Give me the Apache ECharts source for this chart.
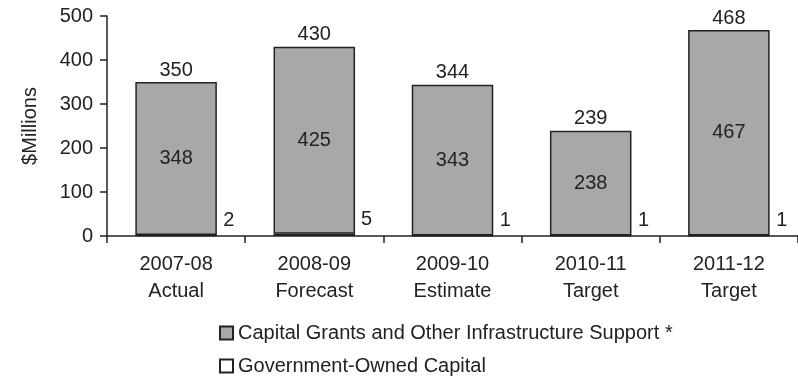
<!DOCTYPE html>
<html>
<head>
<meta charset="utf-8">
<style>
  html, body { margin: 0; padding: 0; background: #ffffff; }
  #chart { width: 798px; height: 383px; }
</style>
<script src="https://cdn.jsdelivr.net/npm/echarts@6/dist/echarts.min.js"></script>
</head>
<body>
<div id="chart"></div>
<script>
// Capital spending by year, $ millions
const categories = ['2007-08\nActual', '2008-09\nForecast', '2009-10\nEstimate', '2010-11\nTarget', '2011-12\nTarget'];
const capitalGrants = [348, 425, 343, 238, 467];
const governmentOwned = [2, 5, 1, 1, 1];
const totals = [350, 430, 344, 239, 468];
const yTicks = { min: 0, max: 500, interval: 100 };

const FONT = 'Liberation Sans, Arial, sans-serif';
const FS = 20;
const TEXT = '#222222';
const EDGE = '#222222';
const GREY = '#a6a8aa';

const chart = echarts.init(document.getElementById('chart'), null, { renderer: 'canvas' });

chart.setOption({
  animation: false,
  backgroundColor: '#ffffff',
  textStyle: { fontFamily: FONT, color: TEXT },
  grid: { left: 107, right: -7, top: 16, bottom: 147, containLabel: false },
  legend: {
    data: ['Capital Grants and Other Infrastructure Support *', 'Government-Owned Capital'],
    orient: 'vertical',
    left: 219,
    top: 323,
    padding: 0,
    itemWidth: 13,
    itemHeight: 13,
    itemGap: 13,
    icon: 'rect',
    textStyle: { fontFamily: FONT, fontSize: FS, color: TEXT, lineHeight: 20 }
  },
  xAxis: {
    type: 'category',
    data: categories,
    axisLine: { lineStyle: { color: EDGE, width: 1.5 } },
    axisTick: { show: true, length: 7, lineStyle: { color: EDGE, width: 1.5 } },
    axisLabel: { fontFamily: FONT, fontSize: FS, color: TEXT, lineHeight: 27, margin: 15 }
  },
  yAxis: {
    type: 'value',
    min: yTicks.min,
    max: yTicks.max,
    interval: yTicks.interval,
    name: '$Millions',
    nameLocation: 'middle',
    nameGap: 67,
    nameRotate: 90,
    nameTextStyle: { fontFamily: FONT, fontSize: FS, color: TEXT },
    splitLine: { show: false },
    axisLine: { show: true, lineStyle: { color: EDGE, width: 1.5 } },
    axisTick: { show: true, length: 7, lineStyle: { color: EDGE, width: 1.5 } },
    axisLabel: { fontFamily: FONT, fontSize: FS, color: TEXT, margin: 14 }
  },
  series: [
    {
      name: 'Government-Owned Capital',
      type: 'bar',
      stack: 'capital',
      data: governmentOwned,
      barWidth: '59%',
      itemStyle: { color: '#ffffff', borderColor: EDGE, borderWidth: 1.5 },
      label: {
        show: true,
        position: 'right',
        distance: 6,
        offset: [0, -15],
        fontFamily: FONT,
        fontSize: FS,
        color: TEXT
      }
    },
    {
      name: 'Capital Grants and Other Infrastructure Support *',
      type: 'bar',
      stack: 'capital',
      data: capitalGrants,
      barWidth: '59%',
      itemStyle: { color: GREY, borderColor: EDGE, borderWidth: 1.5 },
      label: {
        show: true,
        position: 'inside',
        fontFamily: FONT,
        fontSize: FS,
        color: TEXT
      }
    },
    {
      // invisible total bars that carry the value above each stack
      name: 'Total',
      type: 'bar',
      data: totals,
      barWidth: '59%',
      barGap: '-100%',
      z: 1,
      itemStyle: { color: 'rgba(0,0,0,0)' },
      label: {
        show: true,
        position: 'top',
        distance: 2,
        fontFamily: FONT,
        fontSize: FS,
        color: TEXT
      },
      emphasis: { disabled: true },
      tooltip: { show: false }
    }
  ]
});
</script>
</body>
</html>
